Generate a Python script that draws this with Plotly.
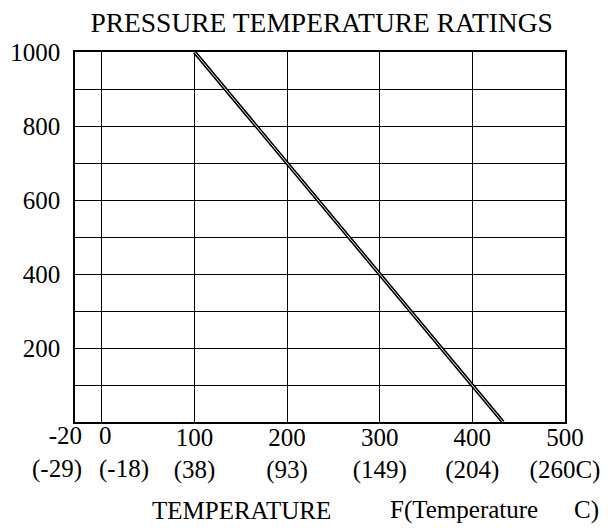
import plotly.graph_objects as go

# Data
temp_f = [100, 200, 300, 400, 433]
pressure = [1000, 700, 400, 100, 0]

x_tickvals = [-29, 0, 100, 200, 300, 400, 500]
x_ticktext = ["-20<br>(-29)", "0<br>(-18)", "100<br>(38)", "200<br>(93)",
              "300<br>(149)", "400<br>(204)", "500<br>(260C)"]
y_tickvals = [100, 200, 300, 400, 500, 600, 700, 800, 900, 1000]
y_ticktext = ["", "200", "", "400", "", "600", "", "800", "", "1000"]

FONT = "Liberation Serif"

fig = go.Figure()
fig.add_trace(go.Scatter(x=temp_f, y=pressure, mode="lines",
                         line=dict(color="black", width=3.8), hoverinfo="skip"))
fig.add_trace(go.Scatter(x=temp_f, y=pressure, mode="lines",
                         line=dict(color="white", width=0.9), hoverinfo="skip"))

# the two leftmost labels sit close together; draw them as aligned annotations
axis_ticktext = [""] * 2 + x_ticktext[2:]

fig.update_layout(
    width=615, height=530,
    margin=dict(l=75, r=50, t=52, b=108, autoexpand=False),
    paper_bgcolor="white", plot_bgcolor="white",
    showlegend=False,
    font=dict(family=FONT, size=25, color="black"),
    title=dict(text="PRESSURE TEMPERATURE RATINGS", x=0.523, xref="container",
               xanchor="center", y=1 - 22 / 530, yref="container", yanchor="middle",
               font=dict(family=FONT, size=27.5, color="black")),
    xaxis=dict(range=[-29, 500], tickvals=x_tickvals, ticktext=axis_ticktext,
               showgrid=True, gridcolor="black", gridwidth=1.2, automargin=False,
               showline=True, linecolor="black", linewidth=1.5, mirror=True,
               zeroline=False, ticks="", tickangle=0, ticklabelstandoff=-8,
               tickfont=dict(family=FONT, size=25, color="black")),
    yaxis=dict(range=[0, 1000], tickvals=y_tickvals, ticktext=y_ticktext,
               showgrid=True, gridcolor="black", gridwidth=1.2, automargin=False,
               showline=True, linecolor="black", linewidth=1.5, mirror=True,
               zeroline=False, ticks="", ticklabelstandoff=8,
               tickfont=dict(family=FONT, size=25, color="black")),
)

ann_font = dict(family=FONT, size=25, color="black")
# left tick labels
fig.add_annotation(text=x_ticktext[0], xref="paper", yref="paper",
                   x=(84 - 75) / 490, y=0, yshift=2, xanchor="right", yanchor="top",
                   align="right", showarrow=False, font=ann_font)
fig.add_annotation(text=x_ticktext[1], xref="paper", yref="paper",
                   x=(97 - 75) / 490, y=0, yshift=2, xanchor="left", yanchor="top",
                   align="left", showarrow=False, font=ann_font)

for txt, px in [("TEMPERATURE", 150), ("F(Temperature", 388), ("C)", 572)]:
    fig.add_annotation(text=txt, xref="paper", yref="paper",
                       x=(px - 75) / 490, y=-(510 - 422) / 370,
                       xanchor="left", yanchor="middle", showarrow=False, font=ann_font)

fig.write_html("out.html", config={"displayModeBar": False},
               post_script="document.body.style.margin='0';document.body.style.overflow='hidden';")
